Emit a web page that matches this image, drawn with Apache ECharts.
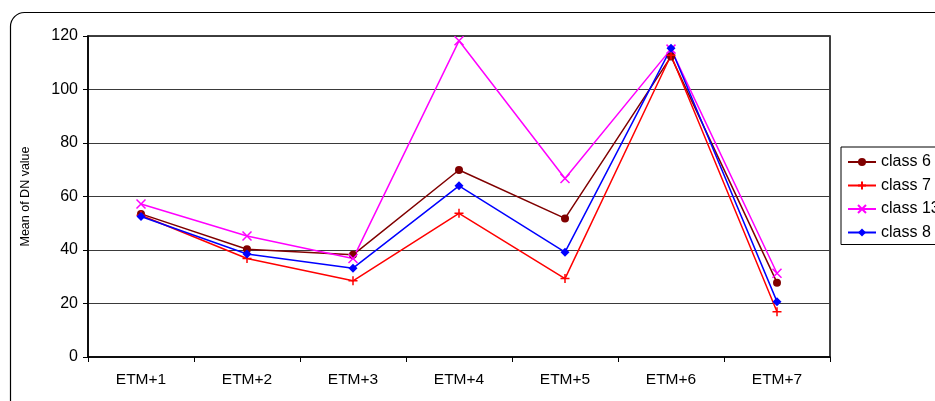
<!DOCTYPE html>
<html>
<head>
<meta charset="utf-8">
<script src="https://cdn.jsdelivr.net/npm/echarts@6/dist/echarts.min.js"></script>
<style>
  html, body { margin: 0; padding: 0; background: #fff; }
  #chart { width: 935px; height: 401px; }
</style>
</head>
<body>
<div id="chart"></div>
<script>
// Landsat ETM+ bands
const categories = ['ETM+1', 'ETM+2', 'ETM+3', 'ETM+4', 'ETM+5', 'ETM+6', 'ETM+7'];

// Mean DN value per band for each class
const class6  = [53.5, 40.3, 38.2, 69.9, 51.8, 112.3, 27.8];
const class7  = [53.0, 36.8, 28.5, 53.7, 29.3, 112.8, 16.9];
const class13 = [57.2, 45.2, 36.8, 118.2, 66.7, 115.1, 31.3];
const class8  = [52.5, 38.5, 33.2, 64.0, 39.2, 115.4, 20.7];

const yTicks = { min: 0, max: 120, interval: 20 };

const font = 'Liberation Sans, Arial, sans-serif';

const plusSymbol = 'path://M5,0L5,10M0,5L10,5';
const crossSymbol = 'path://M0,0L10,10M10,0L0,10';

function lineSeries(name, data, color, symbol, size, stroked) {
  return {
    name: name,
    type: 'line',
    data: data,
    symbol: symbol,
    symbolSize: size,
    showSymbol: true,
    lineStyle: { color: color, width: 1.5 },
    itemStyle: stroked
      ? { color: color, borderColor: color, borderWidth: 1.5 }
      : { color: color, borderWidth: 0 },
    emphasis: { disabled: true },
    animation: false
  };
}

const chart = echarts.init(document.getElementById('chart'), null, { renderer: 'canvas' });

chart.setOption({
  backgroundColor: '#ffffff',
  animation: false,
  textStyle: { fontFamily: font, color: '#000' },
  graphic: [{
    type: 'rect',
    silent: true,
    shape: { x: 10.5, y: 12.5, width: 960, height: 420, r: 14 },
    style: { fill: 'none', stroke: '#000', lineWidth: 1.2 }
  }],
  grid: {
    left: 88, top: 36, width: 742, height: 321,
    show: true, borderColor: '#000', borderWidth: 1.5,
    backgroundColor: 'transparent'
  },
  legend: {
    orient: 'vertical',
    left: 841, top: 147,
    padding: [7, 12, 4, 6],
    itemGap: 7.5,
    itemWidth: 28, itemHeight: 10,
    borderColor: '#000', borderWidth: 1,
    backgroundColor: '#fff',
    textStyle: { fontFamily: font, fontSize: 16, color: '#000' },
    data: ['class 6', 'class 7', 'class 13', 'class 8']
  },
  xAxis: {
    type: 'category',
    data: categories,
    boundaryGap: true,
    axisLine: { lineStyle: { color: '#000', width: 1.5 } },
    axisTick: { show: true, length: 5, inside: false, lineStyle: { color: '#000', width: 1 } },
    axisLabel: { fontFamily: font, fontSize: 15.5, color: '#000', margin: 15 },
    splitLine: { show: false }
  },
  yAxis: {
    type: 'value',
    min: yTicks.min, max: yTicks.max, interval: yTicks.interval,
    name: 'Mean of DN value',
    nameLocation: 'middle',
    nameRotate: 90,
    nameGap: 56,
    nameTextStyle: { fontFamily: font, fontSize: 12.5, color: '#000' },
    axisLine: { show: true, lineStyle: { color: '#000', width: 1.5 } },
    axisTick: { show: true, length: 5, lineStyle: { color: '#000', width: 1 } },
    axisLabel: { fontFamily: font, fontSize: 16, color: '#000', margin: 10 },
    splitLine: { show: true, lineStyle: { color: '#3a3a3a', width: 1 } }
  },
  series: [
    lineSeries('class 6', class6, '#800000', 'circle', 8, false),
    lineSeries('class 7', class7, '#ff0000', plusSymbol, 9, true),
    lineSeries('class 13', class13, '#ff00ff', crossSymbol, 9, true),
    lineSeries('class 8', class8, '#0000ff', 'diamond', 9, false)
  ]
});
</script>
</body>
</html>
